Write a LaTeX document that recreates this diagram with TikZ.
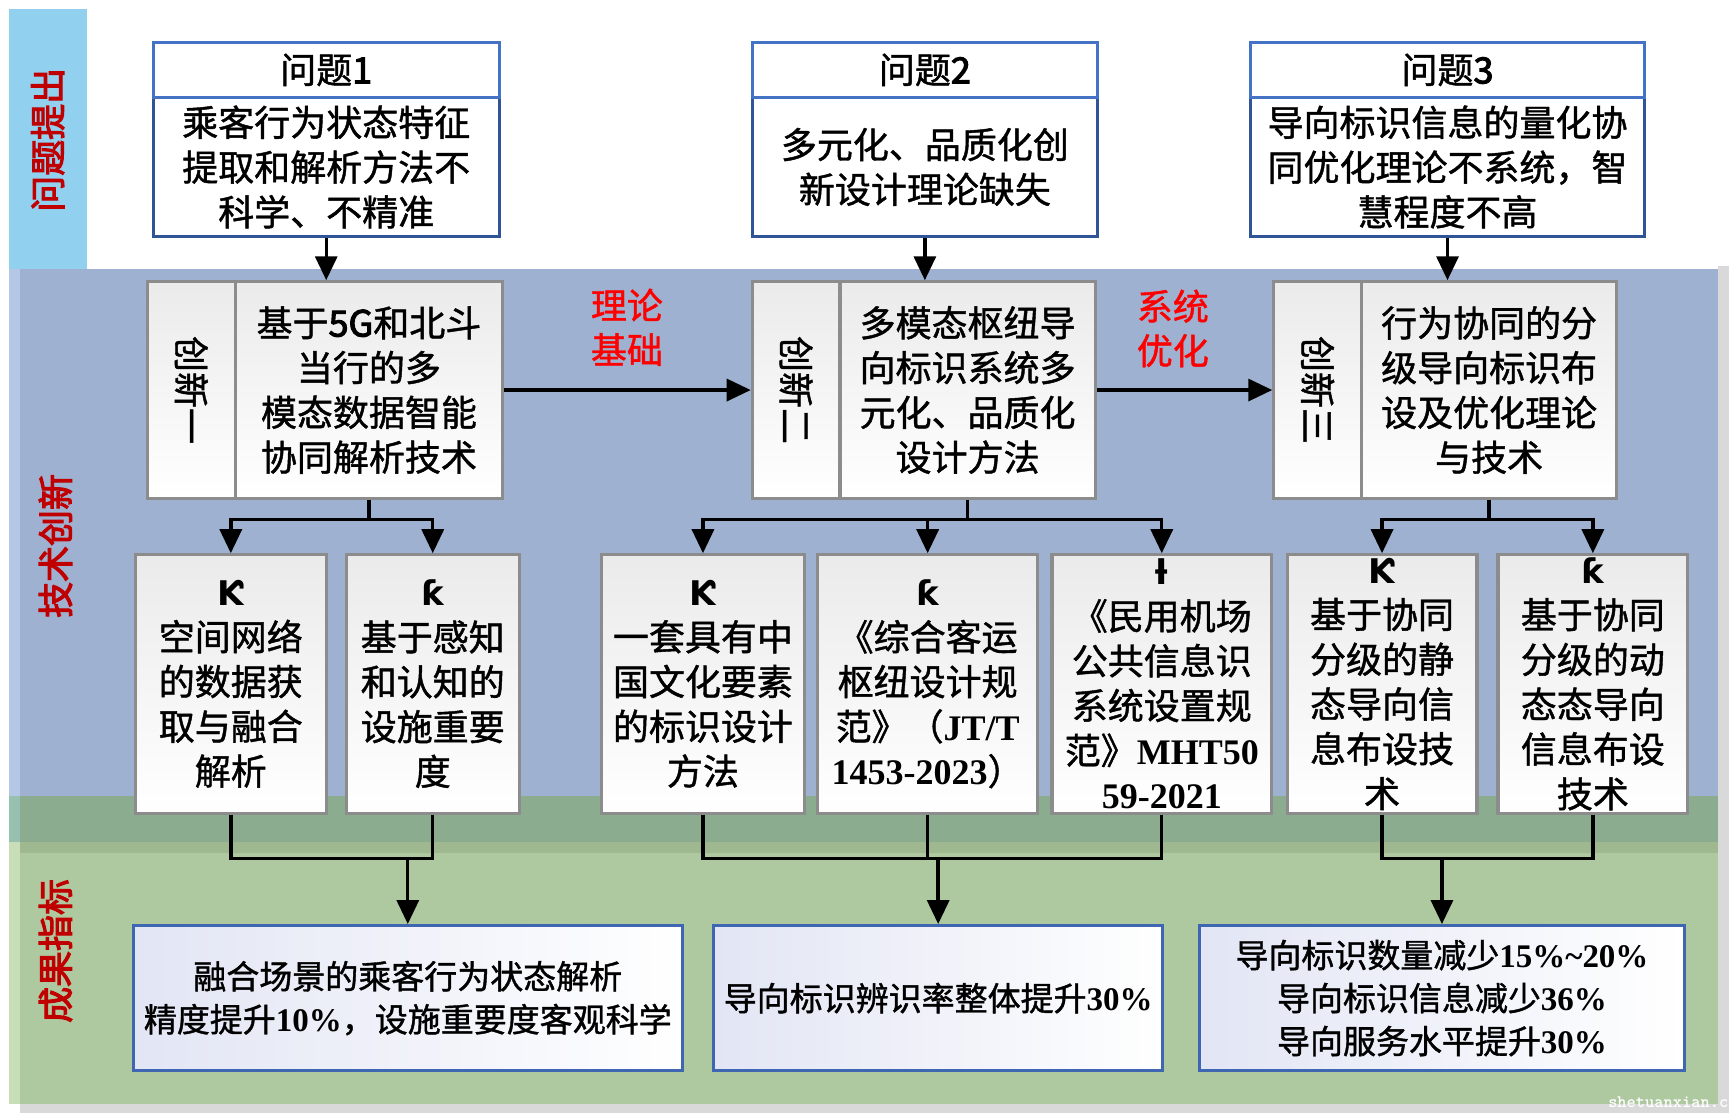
\documentclass[tikz,border=0pt]{standalone}
\usepackage{fontspec}
\setmainfont{Liberation Serif}
\newfontfamily\cjk[FakeBold=1.2]{Noto Sans CJK SC}
\newfontfamily\cjkb[FakeBold=3]{Noto Sans CJK SC}
\newfontfamily\dvs{DejaVu Sans}
\usetikzlibrary{arrows.meta}
\newcommand{\upx}{0.555pt}
\newcommand{\tb}[1]{{\rmfamily\bfseries #1}}
\newcommand{\gl}[1]{{\dvs\bfseries\fontsize{17}{22.4}\selectfont #1}}
\definecolor{skyb}{HTML}{92D0F0}
\definecolor{bandB}{HTML}{9EB1D0}
\definecolor{bandBl}{HTML}{B4C8E6}
\definecolor{bandG}{HTML}{AEC8A0}
\definecolor{bandGl}{HTML}{C8DEB8}
\definecolor{ovl}{HTML}{8CAC90}
\definecolor{ovltwo}{HTML}{A0B890}
\definecolor{ovll}{HTML}{98C0B0}
\definecolor{shad}{HTML}{D9D9D9}
\definecolor{ptop}{HTML}{4472C4}
\definecolor{pbot}{HTML}{2F5597}
\definecolor{gbord}{HTML}{8C8C8C}
\definecolor{rbord}{HTML}{3F66B0}
\definecolor{rfill}{HTML}{E2E5F4}
\definecolor{lbred}{HTML}{C00000}
\definecolor{arred}{HTML}{FF0000}
\begin{document}
\begin{tikzpicture}[x=0.555pt, y=-0.555pt,
  base/.style={inner sep=0pt, align=center, font=\cjk\fontsize{18}{22.4}\selectfont},
  ptitle/.style={base, draw=ptop, line width=1.4pt, fill=white},
  pbody/.style={base, draw=pbot, line width=1.4pt, fill=white},
  ibox/.style={base, draw=gbord, line width=1.6pt, top color=black!8, bottom color=white},
  rbox/.style={inner sep=0pt, align=center, font=\cjk\fontsize{16.5}{21.5}\selectfont,
     draw=rbord, line width=1.4pt, left color=rfill, right color=white},
  side/.style={base, text=lbred, font=\cjkb\fontsize{18}{22.4}\selectfont},
  redlbl/.style={base, text=arred, font=\cjk\fontsize{18}{22.2}\selectfont},
  conn/.style={line width=1.7pt, black},
  arr/.style={conn, -{Triangle[length=12pt,width=11pt]}}]
\useasboundingbox (0,0) rectangle (1560,1004);
% ---------- background bands ----------
\fill[white] (0,0) rectangle (1560,1004);
\fill[shad] (1548,240) rectangle (1558,1003);
\fill[shad] (18,995) rectangle (1558,1003);
\fill[skyb] (8,8) rectangle (78,242);
\fill[bandBl] (8,242) rectangle (18,759);
\fill[bandB] (18,242) rectangle (1548,769);
\fill[bandGl] (8,759) rectangle (18,995);
\fill[bandG] (18,769) rectangle (1548,995);
\fill[ovll] (8,717) rectangle (18,759);
\fill[ovl] (18,717) rectangle (1548,759);
\fill[ovltwo] (18,759) rectangle (1548,769);
% ---------- side labels ----------
\node[side, rotate=90] (L1) at (43,126) {问题提出};
\node[side, rotate=90] (L2) at (50,492) {技术创新};
\node[side, rotate=90] (L3) at (50,857) {成果指标};
% ---------- problem boxes ----------
\node[pbody, minimum width=312*\upx, minimum height=125*\upx] (P1b) at (294,150.5)
  {乘客行为状态特征\\提取和解析方法不\\科学、不精准};
\node[ptitle, minimum width=312*\upx, minimum height=50*\upx] (P1t) at (294,63) {问题{\cjkb 1}};
\node[pbody, minimum width=311*\upx, minimum height=125*\upx] (P2b) at (833.5,150.5)
  {多元化、品质化创\\新设计理论缺失};
\node[ptitle, minimum width=311*\upx, minimum height=50*\upx] (P2t) at (833.5,63) {问题{\cjkb 2}};
\node[pbody, minimum width=355*\upx, minimum height=125*\upx] (P3b) at (1304.5,150.5)
  {导向标识信息的量化协\\同优化理论不系统，智\\慧程度不高};
\node[ptitle, minimum width=355*\upx, minimum height=50*\upx] (P3t) at (1304.5,63) {问题{\cjkb 3}};
% ---------- innovation boxes ----------
\node[ibox, minimum width=79*\upx, minimum height=195*\upx] (I1a) at (172.5,351.5) {};
\node[base, rotate=-90] (I1l) at (I1a) {创新一};
\node[ibox, minimum width=241*\upx, minimum height=195*\upx] (I1) at (332.5,351.5)
  {基于{\cjkb 5G}和北斗\\当行的多\\模态数据智能\\协同解析技术};
\node[ibox, minimum width=79*\upx, minimum height=195*\upx] (I2a) at (717.5,351.5) {};
\node[base, rotate=-90] (I2l) at (I2a) {创新二};
\node[ibox, minimum width=230*\upx, minimum height=195*\upx] (I2) at (872,351.5)
  {多模态枢纽导\\向标识系统多\\元化、品质化\\设计方法};
\node[ibox, minimum width=79*\upx, minimum height=195*\upx] (I3a) at (1187.5,351.5) {};
\node[base, rotate=-90] (I3l) at (I3a) {创新三};
\node[ibox, minimum width=230*\upx, minimum height=195*\upx] (I3) at (1342,351.5)
  {行为协同的分\\级导向标识布\\设及优化理论\\与技术};
% ---------- arrow labels ----------
\node[redlbl] (A1) at (565,295) {理论\\基础};
\node[redlbl] (A2) at (1057,296) {系统\\优化};
% ---------- sub boxes ----------
\node[ibox, minimum width=172*\upx, minimum height=233*\upx] (S1) at (208,616.5)
  {\gl{Ƙ}\\空间网络\\的数据获\\取与融合\\解析};
\node[ibox, minimum width=156*\upx, minimum height=233*\upx] (S2) at (390,616.5)
  {\gl{ƙ}\\基于感知\\和认知的\\设施重要\\度};
\node[ibox, minimum width=183*\upx, minimum height=233*\upx] (S3) at (633.5,616.5)
  {\gl{Ƙ}\\一套具有中\\国文化要素\\的标识设计\\方法};
\node[ibox, minimum width=198*\upx, minimum height=233*\upx] (S4) at (836,616.5)
  {\gl{ƙ}\\《综合客运\\枢纽设计规\\范》（\tb{JT/T}\\\tb{1453-2023}）};
\node[ibox, minimum width=198*\upx, minimum height=233*\upx] (S5) at (1047,616.5)
  {\gl{ƚ}\\《民用机场\\公共信息识\\系统设置规\\范》\tb{MHT50}\\\tb{59-2021}};
\node[ibox, minimum width=171*\upx, minimum height=233*\upx] (S6) at (1245.5,616.5)
  {\gl{Ƙ}\\基于协同\\分级的静\\态导向信\\息布设技\\术};
\node[ibox, minimum width=171*\upx, minimum height=233*\upx] (S7) at (1435.5,616.5)
  {\gl{ƙ}\\基于协同\\分级的动\\态态导向\\信息布设\\技术};
% ---------- result boxes ----------
\node[rbox, minimum width=495*\upx, minimum height=131*\upx] (R1) at (367.5,899.5)
  {融合场景的乘客行为状态解析\\精度提升\tb{10\%}，设施重要度客观科学};
\node[rbox, minimum width=405*\upx, minimum height=131*\upx] (R2) at (845.5,899.5)
  {导向标识辨识率整体提升\tb{30\%}};
\node[rbox, minimum width=437*\upx, minimum height=131*\upx] (R3) at (1299.5,899.5)
  {导向标识数量减少\tb{15\%\textasciitilde20\%}\\导向标识信息减少\tb{36\%}\\导向服务水平提升\tb{30\%}};
% ---------- connectors ----------
\draw[arr] (P1b.south) -- (P1b.south |- I1.north);
\draw[arr] (P2b.south) -- (P2b.south |- I2.north);
\draw[arr] (P3b.south) -- (P3b.south |- I3.north);
\draw[arr] (I1.east) -- (I2a.west);
\draw[arr] (I2.east) -- (I3a.west);
% trees down
\path (I1.south) ++(0,18) coordinate (t1);
\path (I2.south) ++(0,18) coordinate (t2);
\path (I3.south) ++(0,18) coordinate (t3);
\draw[conn] (I1.south) -- (t1);
\draw[arr] (t1) -| (S1.north);
\draw[arr] (t1) -| (S2.north);
\draw[conn] (I2.south) -- (t2);
\draw[arr] (t2) -| (S3.north);
\draw[arr] (t2) -| (S4.north);
\draw[arr] (t2) -| (S5.north);
\draw[conn] (I3.south) -- (t3);
\draw[arr] (t3) -| (S6.north);
\draw[arr] (t3) -| (S7.north);
% trees up into results
\path (S1.south) ++(0,39) coordinate (b1);
\path (S3.south) ++(0,39) coordinate (b2);
\path (S6.south) ++(0,39) coordinate (b3);
\draw[conn] (S1.south) -- (b1) -- (b1 -| S2.south) -- (S2.south);
\draw[arr] (b1 -| R1.north) -- (R1.north);
\draw[conn] (S3.south) -- (b2) -- (b2 -| S5.south) -- (S5.south);
\draw[conn] (S4.south) -- (S4.south |- b2);
\draw[arr] (b2 -| R2.north) -- (R2.north);
\draw[conn] (S6.south) -- (b3) -- (b3 -| S7.south) -- (S7.south);
\draw[arr] (b3 -| R3.north) -- (R3.north);
% watermark
\node[anchor=west, inner sep=0pt, text=white, font=\ttfamily\bfseries\fontsize{8.8}{10}\selectfont] (wm) at (1449,993) {shetuanxian.c};
\end{tikzpicture}
\end{document}
